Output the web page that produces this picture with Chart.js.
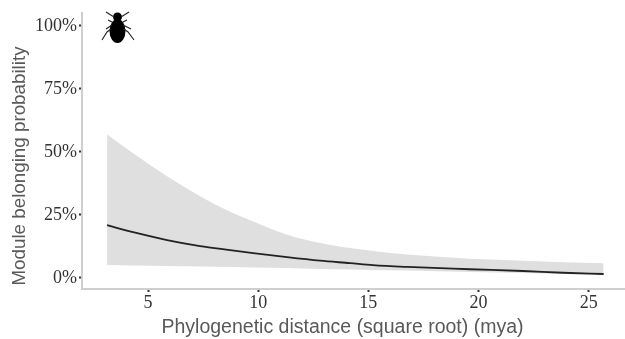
<!DOCTYPE html>
<html>
<head>
<meta charset="utf-8">
<title>Module belonging probability</title>
<script src="https://cdn.jsdelivr.net/npm/chart.js@4"></script>
<style>
  html, body { margin: 0; padding: 0; background: #fff; }
  #wrap { position: relative; width: 625px; height: 339px; }
</style>
</head>
<body>
<div id="wrap"><canvas id="chart" width="625" height="339"></canvas></div>
<script>
const distance = [3.14, 4.32, 5.86, 7.36, 8.72, 9.77, 11.31, 12.81, 14.17, 15.21, 16.76, 19.62, 22.02, 23.84, 25.68];
const probability = [20.6, 17.8, 14.7, 12.3, 10.7, 9.5, 7.9, 6.5, 5.5, 4.7, 4.0, 3.1, 2.4, 1.7, 1.2];
const upperBand = [56.6, 49.1, 40.0, 32.1, 25.9, 22.0, 16.8, 13.5, 11.5, 10.3, 8.9, 7.3, 6.5, 5.9, 5.5];
const lowerBand = [4.8, 4.6, 4.4, 4.2, 4.0, 3.8, 3.6, 3.2, 3.0, 2.8, 2.6, 2.0, 1.6, 1.2, 0.8];
const xTicks = [5, 10, 15, 20, 25];
const yTicks = [0, 25, 50, 75, 100];

function toPoints(values) {
  return values.map((v, i) => ({ x: distance[i], y: v }));
}

// axis titles sit off-centre in the original, so they are placed by hand
const axisTitles = {
  id: "axisTitles",
  afterDraw(chart) {
    const ctx = chart.ctx;
    ctx.save();
    ctx.fillStyle = "#595959";
    ctx.textAlign = "center";
    ctx.textBaseline = "middle";
    ctx.font = "19.5px 'Liberation Sans'";
    ctx.fillText("Phylogenetic distance (square root) (mya)", 342.5, 328);
    ctx.translate(20, 166);
    ctx.rotate(-Math.PI / 2);
    ctx.font = "18.8px 'Liberation Sans'";
    ctx.fillText("Module belonging probability", 0, 0);
    ctx.restore();
  }
};

// aphid silhouette, top left corner of the panel
const bugIcon = {
  id: "bugIcon",
  afterDraw(chart) {
    const ctx = chart.ctx;
    ctx.save();
    ctx.fillStyle = "#000";
    ctx.strokeStyle = "#222";
    ctx.lineWidth = 1.1;
    ctx.beginPath();
    ctx.ellipse(117.5, 31, 8, 12, 0, 0, Math.PI * 2);
    ctx.fill();
    ctx.beginPath();
    ctx.ellipse(117.5, 17, 4.5, 4.5, 0, 0, Math.PI * 2);
    ctx.fill();
    const legs = [
      [114, 17, 106, 12], [121, 17, 129, 12],
      [112, 22, 108, 20], [123, 22, 127, 20],
      [112, 25, 106, 29], [123, 25, 131, 29],
      [111, 29, 107, 32, 102, 40], [124, 29, 128, 32, 134, 40]
    ];
    legs.forEach(l => {
      ctx.beginPath();
      ctx.moveTo(l[0], l[1]);
      for (let i = 2; i < l.length; i += 2) ctx.lineTo(l[i], l[i + 1]);
      ctx.stroke();
    });
    ctx.restore();
  }
};

new Chart(document.getElementById("chart"), {
  type: "line",
  data: {
    datasets: [
      // first dataset is painted last, so the line goes on top of the band
      { data: toPoints(probability), borderColor: "#222", borderWidth: 1.8, pointRadius: 0, cubicInterpolationMode: "monotone", fill: false },
      { data: toPoints(upperBand), borderWidth: 0, pointRadius: 0, cubicInterpolationMode: "monotone", fill: "+1", backgroundColor: "#dfdfdf" },
      { data: toPoints(lowerBand), borderWidth: 0, pointRadius: 0, cubicInterpolationMode: "monotone", fill: false }
    ]
  },
  plugins: [axisTitles, bugIcon],
  options: {
    responsive: false,
    animation: false,
    layout: { padding: { top: 12, right: 0, left: 0, bottom: 0 } },
    plugins: { legend: { display: false }, tooltip: { enabled: false } },
    scales: {
      x: {
        type: "linear",
        min: 2,
        max: 26.65,
        afterBuildTicks: (axis) => { axis.ticks = xTicks.map(v => ({ value: v })); },
        afterFit: (axis) => { axis.height = 50; },
        border: { color: "#cfcfcf", width: 2 },
        grid: { drawOnChartArea: false, tickLength: 3, tickColor: "#333", tickWidth: 2 },
        ticks: {
          autoSkip: false,
          maxRotation: 0,
          padding: 0,
          color: "#333",
          font: { family: "'Liberation Serif'", size: 18 }
        }
      },
      y: {
        min: -4.75,
        max: 104.9,
        afterBuildTicks: (axis) => { axis.ticks = yTicks.map(v => ({ value: v })); },
        afterFit: (axis) => { axis.width = 82; },
        border: { color: "#cfcfcf", width: 2 },
        grid: { drawOnChartArea: false, tickLength: 3, tickColor: "#333", tickWidth: 2 },
        ticks: {
          autoSkip: false,
          padding: 2,
          labelOffset: 1,
          color: "#333",
          font: { family: "'Liberation Serif'", size: 18 },
          callback: (v) => v + "%"
        }
      }
    }
  }
});
</script>
</body>
</html>
